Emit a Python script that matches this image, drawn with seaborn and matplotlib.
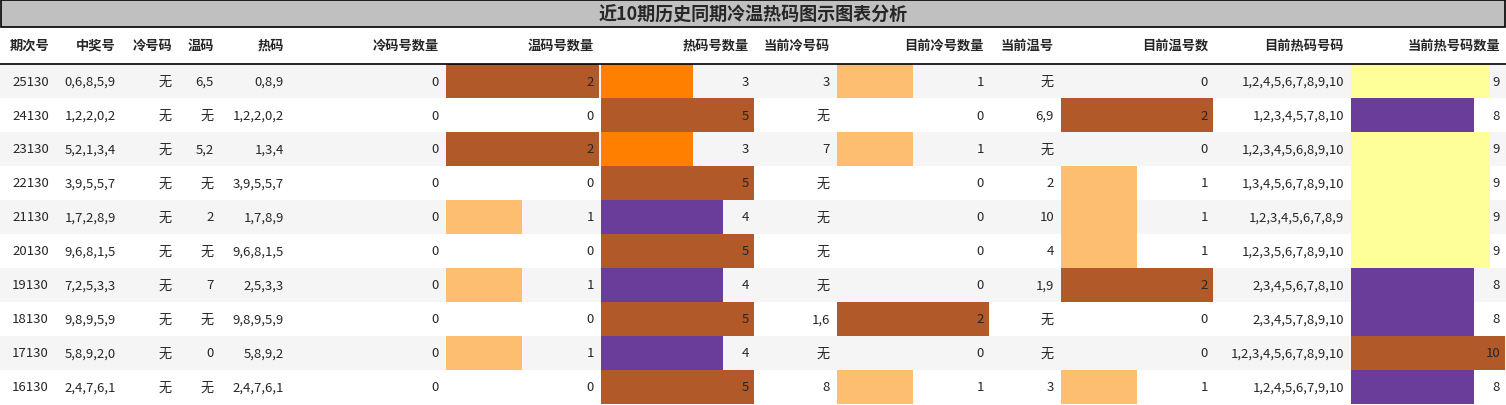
import matplotlib
matplotlib.use("Agg")
import matplotlib.pyplot as plt
import seaborn as sns
from matplotlib.patches import Rectangle

sns.set_theme(style="white")
plt.rcParams['font.family'] = ['Noto Sans CJK SC', 'DejaVu Sans']

title = "近10期历史同期冷温热码图示图表分析"
headers = ["期次号", "中奖号", "冷号码", "温码", "热码", "冷码号数量", "温码号数量", "热码号数量",
           "当前冷号码", "目前冷号数量", "当前温号", "目前温号数", "目前热码号码", "当前热号码数量"]
issue = ["25130", "24130", "23130", "22130", "21130", "20130", "19130", "18130", "17130", "16130"]
winning = ["0,6,8,5,9", "1,2,2,0,2", "5,2,1,3,4", "3,9,5,5,7", "1,7,2,8,9", "9,6,8,1,5", "7,2,5,3,3", "9,8,9,5,9", "5,8,9,2,0", "2,4,7,6,1"]
cold = ["无"] * 10
warm = ["6,5", "无", "5,2", "无", "2", "无", "7", "无", "0", "无"]
hot = ["0,8,9", "1,2,2,0,2", "1,3,4", "3,9,5,5,7", "1,7,8,9", "9,6,8,1,5", "2,5,3,3", "9,8,9,5,9", "5,8,9,2", "2,4,7,6,1"]
cold_cnt = [0] * 10
warm_cnt = [2, 0, 2, 0, 1, 0, 1, 0, 1, 0]
hot_cnt = [3, 5, 3, 5, 4, 5, 4, 5, 4, 5]
cur_cold = ["3", "无", "7", "无", "无", "无", "无", "1,6", "无", "8"]
cur_cold_cnt = [1, 0, 1, 0, 0, 0, 0, 2, 0, 1]
cur_warm = ["无", "6,9", "无", "2", "10", "4", "1,9", "无", "无", "3"]
cur_warm_cnt = [0, 2, 0, 1, 1, 1, 2, 0, 0, 1]
cur_hot = ["1,2,4,5,6,7,8,9,10", "1,2,3,4,5,7,8,10", "1,2,3,4,5,6,8,9,10", "1,3,4,5,6,7,8,9,10",
           "1,2,3,4,5,6,7,8,9", "1,2,3,5,6,7,8,9,10", "2,3,4,5,6,7,8,10", "2,3,4,5,7,8,9,10",
           "1,2,3,4,5,6,7,8,9,10", "1,2,4,5,6,7,9,10"]
cur_hot_cnt = [9, 8, 9, 9, 9, 9, 8, 8, 10, 8]

pal = sns.color_palette("Paired", 12)
brown, purple, orange, light, yellow = pal[11], pal[9], pal[7], pal[6], pal[10]
bar_cols = {6: (warm_cnt, {2: brown, 1: light}),
            7: (hot_cnt, {5: brown, 4: purple, 3: orange}),
            9: (cur_cold_cnt, {2: brown, 1: light}),
            11: (cur_warm_cnt, {2: brown, 1: light}),
            13: (cur_hot_cnt, {10: brown, 9: yellow, 8: purple})}
columns = [issue, winning, cold, warm, hot, cold_cnt, warm_cnt, hot_cnt, cur_cold, cur_cold_cnt,
           cur_warm, cur_warm_cnt, cur_hot, cur_hot_cnt]
edges = [0, 55, 122, 178, 220, 290, 445, 600, 755, 836, 990, 1060, 1214, 1350, 1506]

W, H = 1506, 406
fig = plt.figure(figsize=(W / 100, H / 100), dpi=100)
ax = fig.add_axes([0, 0, 1, 1])
ax.set_xlim(0, W)
ax.set_ylim(H, 0)
ax.axis("off")

ax.add_patch(Rectangle((1, 1), W - 2, 27, facecolor="#c0c0c0", edgecolor="black", lw=1.2))
ax.text(W / 2, 15, title, ha="center", va="center", fontsize=13, fontweight="bold")

hy = 46
for j, h in enumerate(headers):
    ax.text(edges[j + 1] - 6, hy, h, ha="right", va="center", fontsize=9.5, fontweight="bold")
ax.plot([0, W], [64.5, 64.5], color="black", lw=1.2)

row_h = 34
top = 65
for i in range(10):
    y0 = top + i * row_h
    if i % 2 == 0:
        ax.add_patch(Rectangle((0, y0), W, row_h, facecolor="#f5f5f5", edgecolor="none"))
    for j, col in enumerate(columns):
        if j in bar_cols:
            vals, cmap = bar_cols[j]
            v = vals[i]
            if v > 0:
                x0 = edges[j] + 1
                w = v / max(vals) * (edges[j + 1] - edges[j] - 2)
                ax.barh(y0 + row_h / 2, w, height=row_h, left=x0, color=cmap[v], edgecolor="none")
        ax.text(edges[j + 1] - 6, y0 + row_h / 2, str(col[i]), ha="right", va="center", fontsize=9.5)

fig.savefig("out.png", dpi=100)
